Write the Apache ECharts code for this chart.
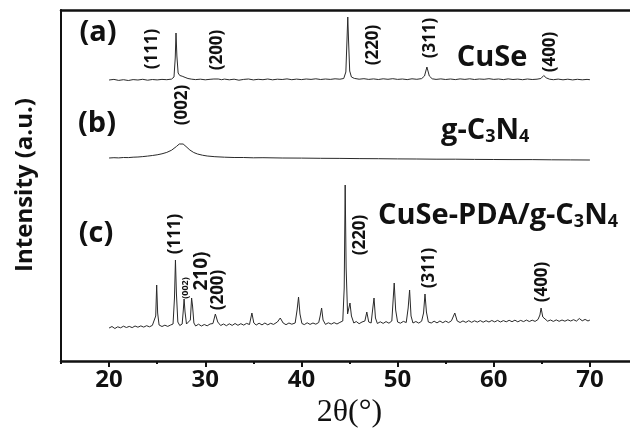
<!DOCTYPE html>
<html>
<head>
<meta charset="utf-8">
<script src="https://cdn.jsdelivr.net/npm/echarts@6/dist/echarts.min.js"></script>
<style>
html,body{margin:0;padding:0;background:#fff;}
#chart{width:630px;height:428px;}
</style>
</head>
<body>
<div id="chart"></div>
<script>
// ---- Data ----
// x axis ticks
var xTickLabels = [20, 30, 40, 50, 60, 70];
var xMinorTicks = [15, 25, 35, 45, 55, 65, 75];

// (a) CuSe : 2theta and relative intensity
var cuSeAngle = [20.0,20.5,21.0,21.5,22.0,22.5,23.0,23.5,24.0,24.5,25.0,25.5,26.0,26.5,26.75,26.88,26.96,27.05,27.18,27.35,27.6,27.9,28.2,28.6,29.0,29.5,30.0,30.5,30.9,31.1,31.35,31.7,32.0,32.5,33.0,33.5,34.0,34.5,35.0,35.5,36.0,36.5,37.0,37.5,38.0,38.5,39.0,39.5,40.0,40.5,41.0,41.5,42.0,42.5,43.0,43.5,44.0,44.4,44.62,44.74,44.82,44.9,45.02,45.2,45.5,46.0,46.5,47.0,47.5,48.0,48.5,49.0,49.5,50.0,50.5,51.0,51.5,52.0,52.5,52.8,53.05,53.3,53.6,54.0,54.5,55.0,55.5,56.0,56.5,57.0,57.5,58.0,58.5,59.0,59.5,60.0,60.5,61.0,61.5,62.0,62.5,63.0,63.5,64.0,64.5,64.9,65.2,65.45,65.8,66.2,66.7,67.2,67.7,68.2,68.7,69.2,69.7,70.0];
var cuSeIntensity = [0.0,0.6,-0.4,0.3,-0.5,0.4,0.0,0.7,-0.2,0.5,0.1,0.6,0.3,0.9,3,22,47,24,7,4.5,3.8,2.6,1.5,0.8,0.4,0.8,0.2,0.7,1.0,3.0,1.0,0.3,0.9,0.2,0.8,-0.2,0.6,1.0,0.1,0.7,0.3,1.0,0.2,0.8,0.5,1.1,0.3,0.9,0.4,1.0,0.6,1.2,0.5,1.0,0.6,1.2,0.8,1.5,8,40,63,40,9,3,1.6,0.8,1.3,0.6,1.1,0.5,1.2,0.7,1.3,0.6,1.0,0.4,1.2,0.7,1.4,4,13,4,1.2,0.6,1.1,0.5,1.0,0.4,1.1,0.6,1.2,0.5,1.0,0.7,1.3,0.6,1.0,0.4,1.1,0.5,0.9,0.3,1.0,0.5,0.8,1.5,4.5,2.2,0.8,0.3,0.9,0.2,0.8,0.1,0.7,0.2,0.6,0.3];

// (b) g-C3N4
var gcnAngle = [20,20.5,21,21.5,22,22.5,23,23.5,24,24.5,25,25.5,26,26.5,27,27.3,27.5,27.7,28,28.4,28.8,29.2,29.7,30.2,31,32,33,34,35,36,38,40,42,44,46,48,50,52,54,56,58,60,62,64,66,68,70];
var gcnIntensity = [0,0.3,0.1,0.5,0.4,0.8,1.0,1.4,1.9,2.5,3.2,4.2,5.6,7.8,11.5,14,15,14,11.5,8,5.5,4,2.8,2.0,1.3,0.8,0.5,0.5,0.2,0.3,0,-0.1,-0.3,-0.4,-0.6,-0.7,-0.9,-1.0,-1.2,-1.2,-1.4,-1.5,-1.6,-1.6,-1.8,-1.9,-2.0];

// (c) CuSe-PDA/g-C3N4
var compAngle = [20.0,20.3,20.6,20.9,21.2,21.5,21.8,22.1,22.4,22.7,23.0,23.3,23.6,23.9,24.2,24.5,24.7,24.85,24.95,25.05,25.2,25.5,25.8,26.1,26.4,26.65,26.8,26.9,27.0,27.15,27.35,27.6,27.72,27.8,27.9,28.05,28.2,28.45,28.58,28.68,28.82,29.0,29.3,29.6,29.9,30.2,30.5,30.8,31.05,31.3,31.6,31.9,32.2,32.5,32.8,33.1,33.4,33.7,34.0,34.3,34.6,34.85,35.05,35.3,35.6,35.9,36.2,36.5,36.8,37.1,37.5,37.8,38.1,38.4,38.7,39.0,39.35,39.55,39.7,39.85,40.05,40.3,40.6,40.9,41.2,41.5,41.8,41.95,42.1,42.25,42.5,42.8,43.1,43.4,43.7,44.0,44.3,44.45,44.55,44.65,44.8,45.05,45.2,45.45,45.7,46.0,46.3,46.6,46.8,47.0,47.25,47.45,47.55,47.7,47.9,48.2,48.5,48.8,49.1,49.4,49.55,49.65,49.8,50.0,50.3,50.6,50.9,51.1,51.25,51.4,51.6,51.9,52.2,52.5,52.7,52.85,53.0,53.2,53.5,53.8,54.1,54.4,54.7,55.0,55.3,55.6,55.95,56.2,56.5,56.8,57.1,57.4,57.7,58.0,58.3,58.6,58.9,59.2,59.5,59.8,60.1,60.4,60.7,61.0,61.3,61.6,61.9,62.2,62.5,62.8,63.1,63.4,63.7,64.0,64.3,64.6,64.8,64.92,65.1,65.3,65.6,65.9,66.2,66.5,66.8,67.1,67.4,67.7,68.0,68.3,68.6,68.9,69.2,69.5,69.8,70.0];
var compIntensity = [0,1.5,-0.5,1.2,0.2,1.8,0.5,1.6,0.4,2.0,0.8,2.1,0.9,2.3,1.2,2.6,1.5,12,43,15,3,1.5,2.8,1.6,3.0,4,30,68,35,6,2.5,4,18,29,16,4,3,8,30,22,5,2,3.8,2.0,3.5,2.2,4.0,4.5,14,6,2.5,4.0,2.3,4.2,2.6,4.5,2.7,4.3,2.9,4.6,3.5,15,5,3.0,4.8,3.1,5.0,3.2,4.7,3.6,6,10,5,3.3,5.0,3.8,5,18,31,14,4.5,3.4,5.2,3.6,5.0,3.8,5.5,12,20,8,3.6,5.2,3.9,5.4,4.0,5.6,7,40,143,60,14,25,12,5,6.5,4.3,6.0,7,16,6,5,22,30,10,4.5,6.2,4.6,6.4,4.8,7,30,45,18,6,4.8,6.6,5.5,20,38,12,5,6.5,4.9,6.8,15,34,16,6,5.0,6.8,5.1,7.0,5.3,6.9,5.4,7.2,15,7,5.5,7.1,5.6,7.3,5.7,7.2,5.9,7.4,5.8,7.3,6.0,7.5,6.1,7.6,6.0,7.4,6.2,7.7,6.3,7.8,6.2,7.6,6.4,7.9,6.5,7.8,6.6,8.5,13,20,11,9,6.8,8.0,6.6,8.1,6.7,8.0,6.8,8.2,7.0,8.3,6.9,9.5,7.2,8.6,7.0,8.0];

// vertical offsets of the stacked patterns (intensity units)
var traceOffsets = [281, 203, 33];

function pairs(ang, val, off) {
  return ang.map(function (a, i) { return [a, val[i] + off]; });
}

var chart = echarts.init(document.getElementById('chart'), null, {renderer: 'canvas'});

var lineStyle = {color: '#2a2a2a', width: 1};
function mkSeries(name, data) {
  return {name: name, type: 'line', data: data, showSymbol: false, symbol: 'none',
          lineStyle: lineStyle, silent: true, animation: false};
}

var fontSans = '"Open Sans", "Noto Sans", sans-serif';
function vlabel(txt, x, y, size) {
  return {type: 'text', x: x, y: y, rotation: Math.PI / 2,
    style: {text: txt, fill: '#111', font: 'bold ' + (size || 17) + 'px ' + fontSans,
            align: 'center', verticalAlign: 'middle'}};
}
function hlabel(txt, x, y, size) {
  return {type: 'text', x: x, y: y,
    style: {text: txt, fill: '#111', font: 'bold ' + size + 'px ' + fontSans,
            align: 'center', verticalAlign: 'middle'}};
}
function subLabel(parts, x, y, size, subSize) {
  var txt = parts.map(function (p) { return p[1] ? '{s|' + p[0] + '}' : '{n|' + p[0] + '}'; }).join('');
  return {type: 'text', x: x, y: y,
    style: {text: txt, align: 'left', verticalAlign: 'middle',
      rich: {
        n: {fontSize: size, fontWeight: 'bold', fontFamily: fontSans, fill: '#111', lineHeight: size + 4, verticalAlign: 'bottom'},
        s: {fontSize: subSize, fontWeight: 'bold', fontFamily: fontSans, fill: '#111', padding: [17, 0, 0, 0], verticalAlign: 'bottom'}
      }}};
}

chart.setOption({
  animation: false,
  backgroundColor: '#fff',
  grid: {left: 61, top: 10, width: 577, height: 351, show: false,
         containLabel: false, outerBoundsMode: 'none'},
  xAxis: [{
    type: 'value', min: 15, max: 75, interval: 5,
    axisLine: {show: true, lineStyle: {color: '#111', width: 2.5}},
    axisTick: {show: true, inside: false, length: 6, customValues: xTickLabels, lineStyle: {color: '#111', width: 2}},
    splitLine: {show: false},
    axisLabel: {
      margin: 7, color: '#111', fontSize: 24, fontWeight: 'bold', fontFamily: fontSans,
      customValues: xTickLabels,
      formatter: function (v) { return xTickLabels.indexOf(v) >= 0 ? String(v) : ''; }
    },
    name: '2θ(°)', nameLocation: 'middle', nameGap: 34,
    nameTextStyle: {color: '#111', fontSize: 32, fontFamily: '"Liberation Serif", "DejaVu Serif", serif'}
  }, {
    type: 'value', min: 15, max: 75, interval: 5, position: 'bottom', offset: 0,
    axisLine: {show: false},
    axisTick: {show: true, inside: false, length: 3, customValues: xMinorTicks, lineStyle: {color: '#111', width: 2}},
    axisLabel: {show: false}, splitLine: {show: false}
  }, {
    type: 'value', min: 15, max: 75, interval: 5, position: 'top', offset: 0,
    axisLine: {show: true, lineStyle: {color: '#111', width: 2.5}},
    axisTick: {show: false}, axisLabel: {show: false}, splitLine: {show: false}
  }],
  yAxis: {
    type: 'value', min: 0, max: 351,
    axisLine: {show: true, lineStyle: {color: '#111', width: 2}},
    axisTick: {show: false}, axisLabel: {show: false}, splitLine: {show: false}
  },
  series: [
    mkSeries('CuSe', pairs(cuSeAngle, cuSeIntensity, traceOffsets[0])),
    mkSeries('g-C3N4', pairs(gcnAngle, gcnIntensity, traceOffsets[1])),
    mkSeries('CuSe-PDA/g-C3N4', pairs(compAngle, compIntensity, traceOffsets[2]))
  ],
  graphic: [
    {type: 'text', x: 25, y: 185, rotation: Math.PI / 2,
     style: {text: 'Intensity (a.u.)', fill: '#111', font: 'bold 24px ' + fontSans, align: 'center', verticalAlign: 'middle'}},
    hlabel('(a)', 98, 33, 29),
    hlabel('(b)', 97, 124, 29),
    hlabel('(c)', 96, 234, 29),
    hlabel('CuSe', 492, 58, 29),
    subLabel([['g-C'], ['3', 1], ['N'], ['4', 1]], 441, 128, 29, 18),
    subLabel([['CuSe-PDA/g-C'], ['3', 1], ['N'], ['4', 1]], 378, 213, 29, 18),
    vlabel('(111)', 152, 49),
    vlabel('(200)', 217, 50),
    vlabel('(220)', 373, 45),
    vlabel('(311)', 430, 38),
    vlabel('(400)', 550, 52),
    vlabel('(002)', 182, 105),
    vlabel('(111)', 175, 234),
    vlabel('(002)', 185, 288, 9),
    vlabel('210)', 202, 271, 19),
    vlabel('(200)', 218, 290),
    vlabel('(220)', 360, 235),
    vlabel('(311)', 429, 268),
    vlabel('(400)', 542, 282)
  ]
});
</script>
</body>
</html>
